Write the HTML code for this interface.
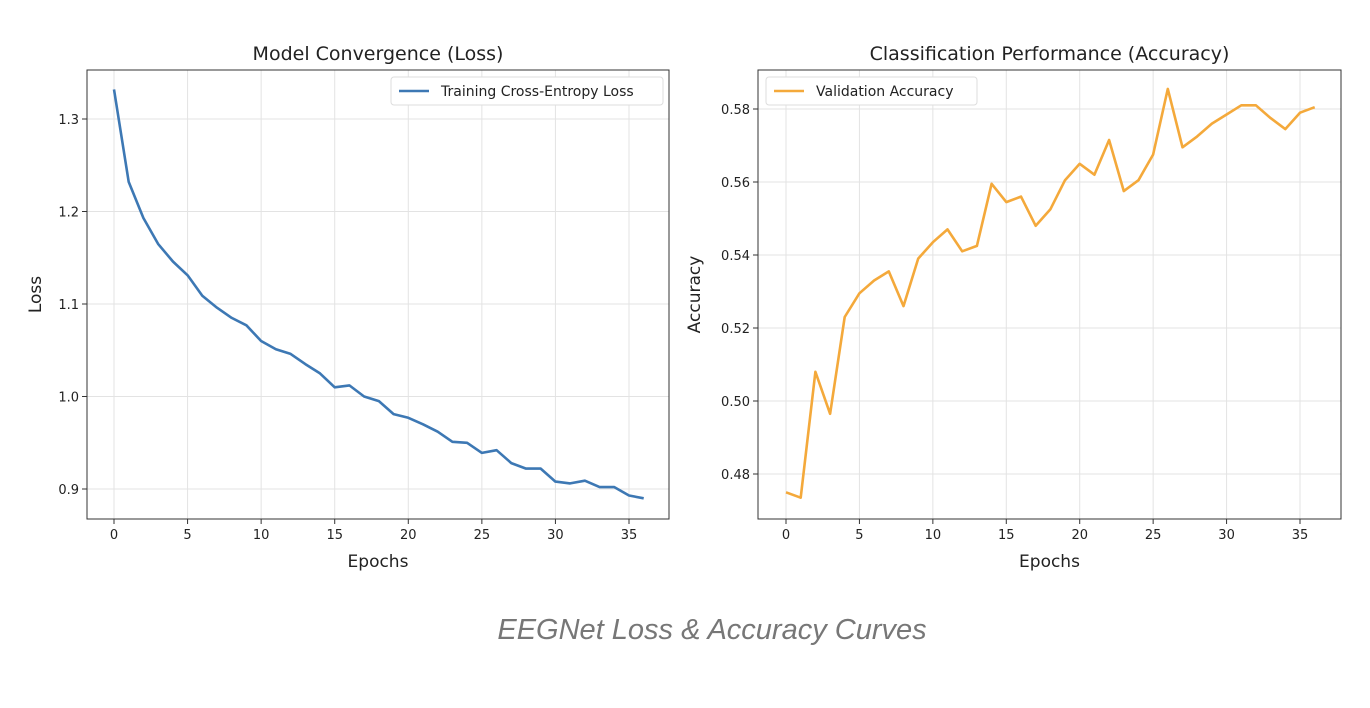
<!DOCTYPE html>
<html><head><meta charset="utf-8"><style>
body{margin:0;background:#fff;width:1370px;height:704px;overflow:hidden;font-family:"DejaVu Sans","Liberation Sans",sans-serif}
svg text{font-family:"DejaVu Sans","Liberation Sans",sans-serif;fill:#222}
</style></head><body>
<svg id="fig" width="1370" height="704" xmlns="http://www.w3.org/2000/svg">
<text x="712" y="639" text-anchor="middle" font-size="29" font-style="italic" style="fill:#777;font-family:'Liberation Sans',sans-serif">EEGNet Loss &amp; Accuracy Curves</text>
</svg>
<script>
const epochs=[...Array(37).keys()];
const lossValues=[1.332,1.232,1.193,1.165,1.146,1.131,1.109,1.096,1.085,1.077,1.060,1.051,1.046,1.035,1.025,1.010,1.012,1.000,0.995,0.981,0.977,0.970,0.962,0.951,0.950,0.939,0.942,0.928,0.922,0.922,0.908,0.906,0.909,0.902,0.902,0.893,0.890];
const accValues=[0.475,0.4735,0.508,0.4965,0.523,0.5295,0.533,0.5355,0.526,0.539,0.5435,0.547,0.541,0.5425,0.5595,0.5545,0.556,0.548,0.5525,0.5605,0.565,0.562,0.5715,0.5575,0.5605,0.5675,0.5855,0.5695,0.5725,0.576,0.5785,0.581,0.581,0.5775,0.5745,0.579,0.5805];
const xTicks=[0,5,10,15,20,25,30,35];
const lossTicks=[0.9,1.0,1.1,1.2,1.3];
const accTicks=[0.48,0.50,0.52,0.54,0.56,0.58];
const NS="http://www.w3.org/2000/svg";
const svg=document.getElementById('fig');
function mk(tag,attrs,parent){const e=document.createElementNS(NS,tag);for(const k in attrs)e.setAttribute(k,attrs[k]);(parent||svg).appendChild(e);return e;}
function panel(o){
  const g=mk('g',{});
  
  
  const sx=v=>o.x0+(v-0)*(o.x35-o.x0)/35;
  const sy=v=>o.ya+(v-o.va)*(o.yb-o.ya)/(o.vb-o.va);
  xTicks.forEach(t=>{
    const l=mk('line',{x1:sx(t),x2:sx(t),y1:o.top,y2:o.bot,stroke:'#e3e3e3','stroke-width':1},g);
    
    mk('line',{x1:sx(t),x2:sx(t),y1:o.bot,y2:o.bot+5,stroke:'#333'},g);
    const tx=mk('text',{x:sx(t),y:o.bot+20,'text-anchor':'middle','font-size':13},g);tx.textContent=t;
    
  });
  o.ticks.forEach(t=>{
    const l=mk('line',{x1:o.left,x2:o.right,y1:sy(t),y2:sy(t),stroke:'#e3e3e3','stroke-width':1},g);
    
    mk('line',{x1:o.left-5,x2:o.left,y1:sy(t),y2:sy(t),stroke:'#333'},g);
    const tx=mk('text',{x:o.left-8,y:sy(t)+5,'text-anchor':'end','font-size':13},g);tx.textContent=t.toFixed(o.dec);
    
  });
  const pts=epochs.map((e,i)=>sx(e).toFixed(1)+','+sy(o.vals[i]).toFixed(1)).join(' ');
  const pl=mk('polyline',{points:pts,fill:'none',stroke:o.color,'stroke-width':2.6,'stroke-linejoin':'round'},g);
  
  const fr=mk('rect',{x:o.left,y:o.top,width:o.right-o.left,height:o.bot-o.top,fill:'none',stroke:'#333','stroke-width':1},g);
  
  const ti=mk('text',{x:(o.left+o.right)/2,y:60,'text-anchor':'middle','font-size':19},g);ti.textContent=o.title;
  
  const xl=mk('text',{x:(o.left+o.right)/2,y:567,'text-anchor':'middle','font-size':17},g);xl.textContent='Epochs';
  
  const cy=(o.top+o.bot)/2;
  const yl=mk('text',{x:o.ylx,y:cy,'text-anchor':'middle','font-size':17,transform:`rotate(-90 ${o.ylx} ${cy})`},g);yl.textContent=o.ytitle;
  
  const lg=mk('g',{},g);
  
  mk('rect',{x:o.lgx,y:77,width:o.lgw,height:28,rx:3,fill:'#fff',stroke:'#ddd'},lg);
  mk('line',{x1:o.lgx+8,x2:o.lgx+38,y1:91,y2:91,stroke:o.color,'stroke-width':2.6},lg);
  const lt=mk('text',{x:o.lgx+50,y:96,'font-size':14},lg);lt.textContent=o.legend;
  
}
panel({name:'loss-chart',series:'loss-line',left:87,right:669,top:70,bot:519,x0:114,x35:629,ya:489,va:0.9,yb:119,vb:1.3,ticks:lossTicks,dec:1,vals:lossValues,color:'#3d78b4',title:'Model Convergence (Loss)',ytitle:'Loss',ylx:41,lgx:391,lgw:272,legend:'Training Cross-Entropy Loss'});
panel({name:'accuracy-chart',series:'accuracy-line',left:758,right:1341,top:70,bot:519,x0:786,x35:1300,ya:474,va:0.48,yb:109,vb:0.58,ticks:accTicks,dec:2,vals:accValues,color:'#f4a93b',title:'Classification Performance (Accuracy)',ytitle:'Accuracy',ylx:700,lgx:766,lgw:211,legend:'Validation Accuracy'});
</script>
</body></html>
